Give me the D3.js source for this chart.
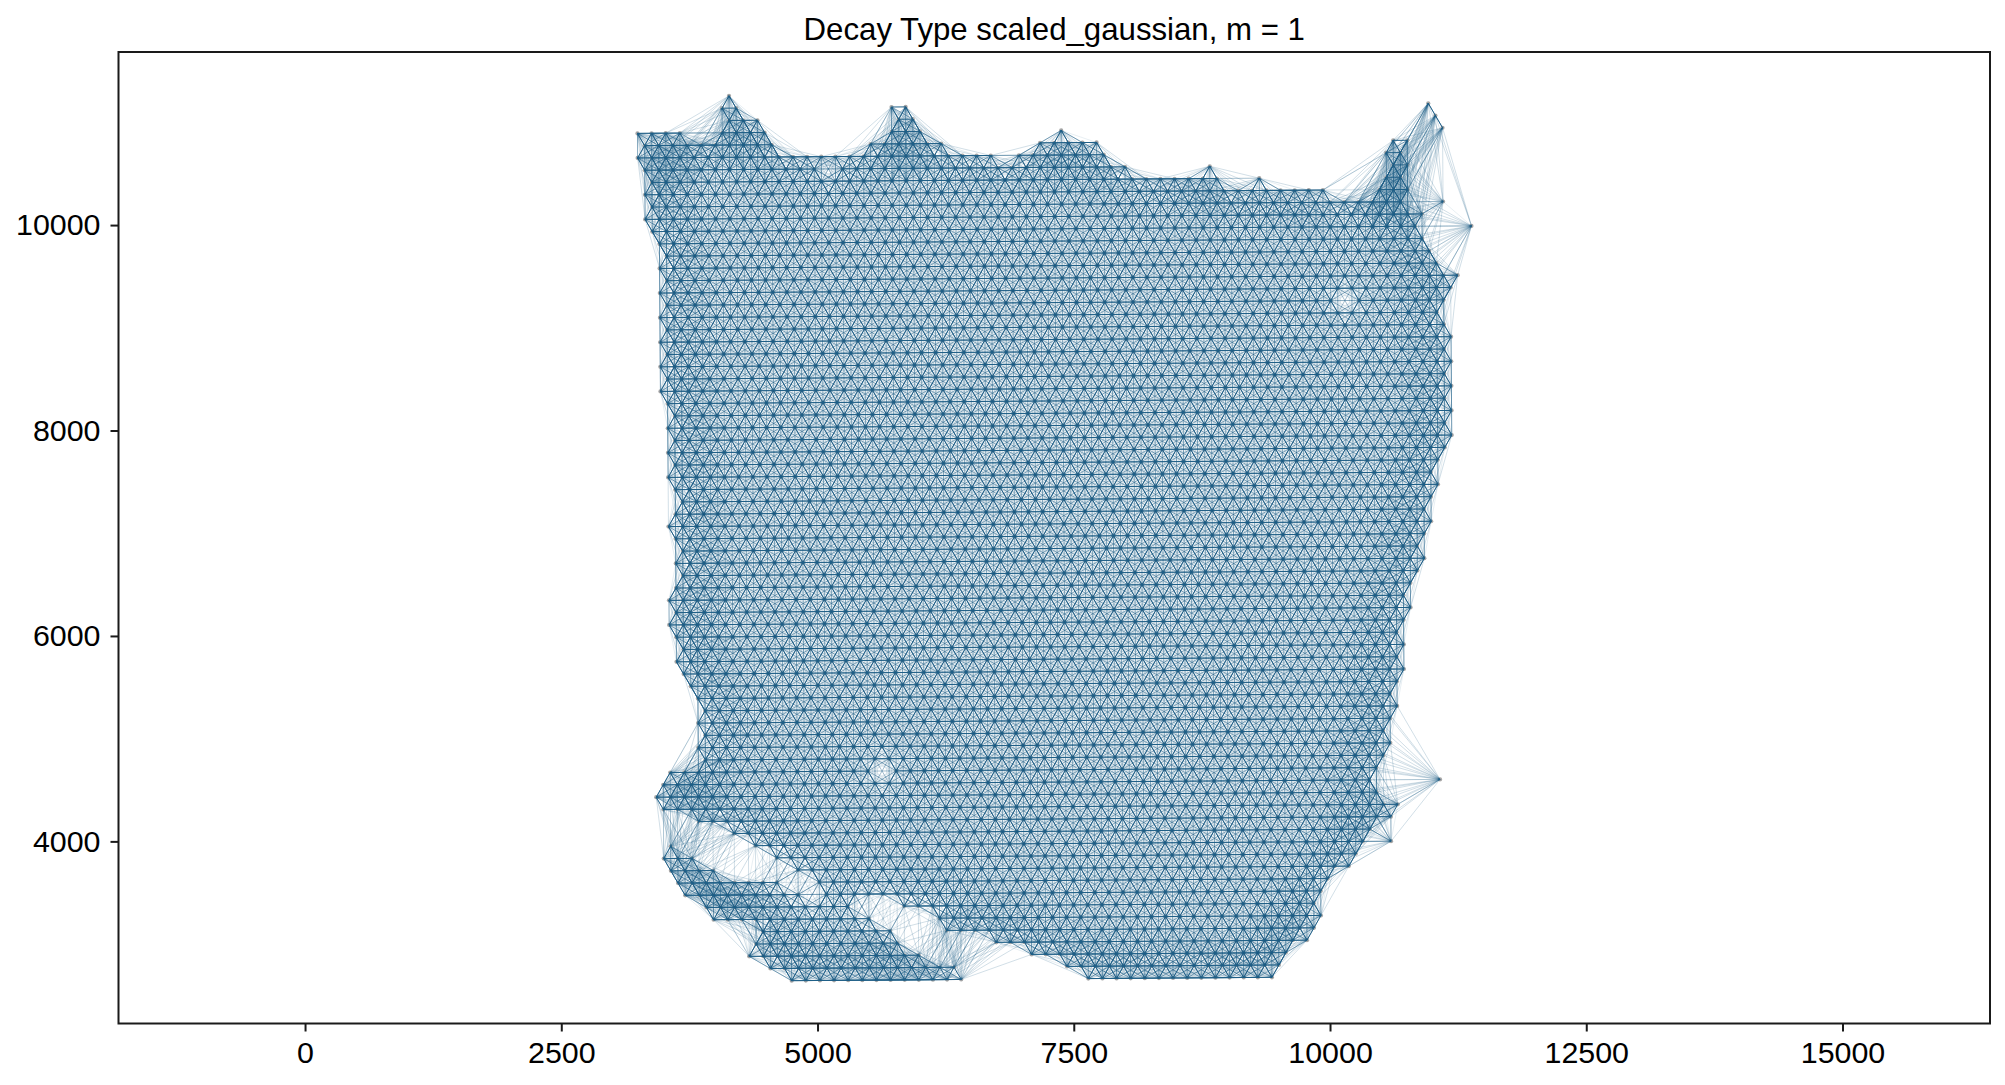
<!DOCTYPE html>
<html>
<head>
<meta charset="utf-8">
<style>
html,body{margin:0;padding:0;background:#fff;}
svg{display:block;}
text{font-family:"Liberation Sans",Arial,sans-serif;fill:#000;}
</style>
<script src="https://cdn.jsdelivr.net/npm/d3@7"></script>
</head>
<body>
<svg id="chart" width="2005" height="1085"></svg>
<script>
const chartTitle = "Decay Type scaled_gaussian, m = 1";
const xTicks = [0, 2500, 5000, 7500, 10000, 12500, 15000];
const yTicks = [4000, 6000, 8000, 10000];
const xDomain = [-1820, 16439];
const yDomain = [2227, 11685];

// lattice: spacing along a row, between rows, slight rotation
const gridOrigin = [4748, 2644];
const halfStep = 68.9;
const rowStep = 119.7;
const rowShear = -0.84;
const rowTilt = 0.007;
const neighbours = 30;

// occupied spots of each lattice row, bottom row first: [first half-column, last half-column]
const rowRuns = [
 [[0,24],[42,68]],
 [[-3,23],[39,69]],
 [[-6,18],[34,70]],
 [[-5,15],[29,73]],
 [[-4,14],[22,74]],
 [[-11,11],[21,75]],
 [[-12,8],[16,74]],
 [[-15,1],[5,75]],
 [[-16,-2],[4,76]],
 [[-17,-11],[1,79]],
 [[-18,-14],[-2,80]],
 [[-17,-17],[-5,81],[85,85]],
 [[-8,82]],
 [[-13,85]],
 [[-18,86]],
 [[-19,83]],
 [[-18,82],[92,92]],
 [[-17,11],[15,83]],
 [[-12,84]],
 [[-13,85]],
 [[-12,84]],
 [[-13,85]],
 [[-12,86]],
 [[-13,85]],
 [[-14,86]],
 [[-15,87]],
 [[-16,86]],
 [[-15,87]],
 [[-16,86]],
 [[-17,87]],
 [[-16,88]],
 [[-17,87]],
 [[-16,88]],
 [[-15,89]],
 [[-16,90]],
 [[-15,89]],
 [[-16,90]],
 [[-17,91]],
 [[-16,90]],
 [[-15,91]],
 [[-16,92]],
 [[-17,91]],
 [[-16,92]],
 [[-17,93]],
 [[-16,94]],
 [[-17,93]],
 [[-16,94]],
 [[-17,93]],
 [[-18,94]],
 [[-17,93]],
 [[-18,94]],
 [[-17,93]],
 [[-18,94]],
 [[-17,93]],
 [[-18,92]],
 [[-17,77],[81,93]],
 [[-18,94]],
 [[-17,95]],
 [[-18,92]],
 [[-17,91]],
 [[-18,90]],
 [[-19,89],[97,97]],
 [[-20,90]],
 [[-19,87],[93,93]],
 [[-20,76],[84,88]],
 [[-19,61],[67,67],[85,87]],
 [[-20,4],[8,48],[60,60],[86,88]],
 [[-21,29],[33,46],[85,87]],
 [[-20,-2],[12,22],[36,44],[86,88]],
 [[-21,-15],[-9,-3],[15,19],[39,39],[93,93]],
 [[-8,-4],[16,18],[92,92]],
 [[-9,-7],[15,17],[91,91]],
 [[-8,-8]]
];

const width = 2005, height = 1085;
const plot = {left:118.5, right:1990, top:52, bottom:1023.5};
const x = d3.scaleLinear().domain(xDomain).range([plot.left, plot.right]);
const y = d3.scaleLinear().domain(yDomain).range([plot.bottom, plot.top]);
const svg = d3.select("#chart");

// nodes
const nodes = [];
rowRuns.forEach((runs, r) => runs.forEach(([a, b]) => {
  for (let h = a; h <= b; h += 2) {
    const dx = h * halfStep + r * rowShear;
    nodes.push({x: gridOrigin[0] + dx, y: gridOrigin[1] + r * rowStep + dx * rowTilt});
  }
}));

// k nearest neighbours; short links are strong, long links fade to a pale wash
const n = nodes.length;
const spacing2 = (2 * halfStep) * (2 * halfStep);
const knn = nodes.map(a => {
  const best = [];
  for (let j = 0; j < n; j++) {
    const b = nodes[j];
    if (b === a) continue;
    const d2 = (a.x-b.x)*(a.x-b.x) + (a.y-b.y)*(a.y-b.y);
    if (best.length < neighbours || d2 < best[best.length-1].d2) {
      let i = best.length;
      best.push({j, d2});
      while (i > 0 && best[i-1].d2 > d2) { best[i] = best[i-1]; i--; }
      best[i] = {j, d2};
      if (best.length > neighbours) best.pop();
    }
  }
  return best;
});
const edgeMap = new Map();
knn.forEach((b, i) => b.forEach(({j, d2}) => {
  const key = i < j ? i * n + j : j * n + i;
  if (!edgeMap.has(key)) {
    const u = d2 / spacing2;
    const w = u > 7.6 ? 0.2 : u > 5 ? 0.1 : 1.35 * Math.exp(-0.3 * u);
    edgeMap.set(key, {a: nodes[i], b: nodes[j], w});
  }
}));
const edges = Array.from(edgeMap.values());

// nodes under edges
svg.append("g").selectAll("circle").data(nodes).join("circle")
  .attr("cx", d => x(d.x)).attr("cy", d => y(d.y)).attr("r", 2.1)
  .attr("fill", "#8f8f8f").attr("fill-opacity", 0.8);

svg.append("g").attr("stroke", "#1f5f87").attr("stroke-width", 1)
  .selectAll("line").data(edges).join("line")
  .attr("x1", d => x(d.a.x)).attr("y1", d => y(d.a.y))
  .attr("x2", d => x(d.b.x)).attr("y2", d => y(d.b.y))
  .attr("stroke-opacity", d => Math.min(1, d.w));

// axes
const xAxis = d3.axisBottom(x).tickValues(xTicks).tickFormat(d3.format("d")).tickSize(8).tickPadding(10);
const yAxis = d3.axisLeft(y).tickValues(yTicks).tickFormat(d3.format("d")).tickSize(8).tickPadding(10);
const gx = svg.append("g").attr("transform", `translate(0,${plot.bottom})`).call(xAxis);
const gy = svg.append("g").attr("transform", `translate(${plot.left},0)`).call(yAxis);
[gx, gy].forEach(g => {
  g.select(".domain").remove();
  g.selectAll(".tick line").attr("stroke", "#1a1a1a").attr("stroke-width", 2);
  g.selectAll(".tick text").attr("font-size", 30.4).attr("fill", "#000")
    .attr("font-family", '"Liberation Sans",Arial,sans-serif');
});
svg.append("rect").attr("x", plot.left).attr("y", plot.top)
  .attr("width", plot.right - plot.left).attr("height", plot.bottom - plot.top)
  .attr("fill", "none").attr("stroke", "#1a1a1a").attr("stroke-width", 2);

svg.append("text").attr("x", (plot.left + plot.right) / 2).attr("y", 40)
  .attr("text-anchor", "middle").attr("font-size", 31.2).text(chartTitle);
</script>
</body>
</html>
